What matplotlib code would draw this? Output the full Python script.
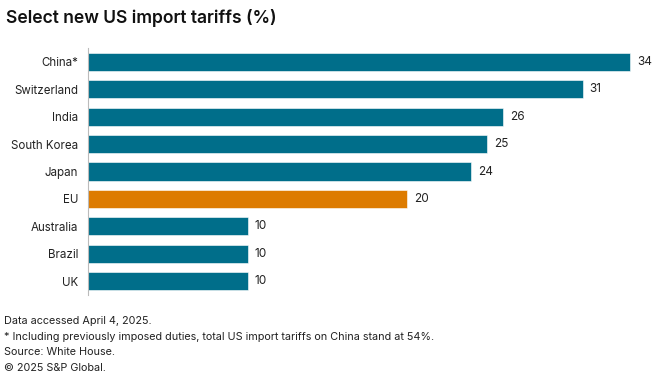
import matplotlib.pyplot as plt

countries = ["China*", "Switzerland", "India", "South Korea", "Japan", "EU", "Australia", "Brazil", "UK"]
tariffs = [34, 31, 26, 25, 24, 20, 10, 10, 10]
highlight = "EU"

teal = "#006e8a"
orange = "#dd7b00"

plt.rcParams['font.family'] = ['Inter', 'DejaVu Sans']

fig = plt.figure(figsize=(6.6, 3.85), dpi=100)
ax = fig.add_axes([88 / 660, 1 - 295 / 385, (640 - 88) / 660, (295 - 48) / 385])

colors = [orange if c == highlight else teal for c in countries]
ypos = range(len(countries))
ax.barh(ypos, tariffs, height=0.66, color=colors, edgecolor="white", linewidth=0.4)

for y, v in zip(ypos, tariffs):
    ax.text(v + 0.45, y, str(v), va="center", ha="left", fontsize=8.5, color="#222222")

ax.set_yticks(list(ypos))
ax.set_yticklabels(countries, fontsize=8.3, color="#222222")
ax.set_ylim(len(countries) - 0.49, -0.51)
ax.set_xlim(0, 34.6)
ax.set_xticks([])
ax.tick_params(axis="y", length=0, pad=7)
for s in ["top", "right", "bottom"]:
    ax.spines[s].set_visible(False)
ax.spines["left"].set_color("#bbbbbb")
ax.spines["left"].set_linewidth(0.8)

fig.text(6 / 660, 1 - 18 / 385, "Select new US import tariffs (%)", fontsize=12.6,
         fontweight="semibold", va="center", ha="left", color="#111111")

notes = [
    "Data accessed April 4, 2025.",
    "* Including previously imposed duties, total US import tariffs on China stand at 54%.",
    "Source: White House.",
    "\u00a9 2025 S&P Global.",
]
for i, line in enumerate(notes):
    fig.text(4 / 660, 1 - (321 + i * 15.6) / 385, line, fontsize=7.8, va="center",
             ha="left", color="#222222")

fig.savefig("out.png", dpi=100)
